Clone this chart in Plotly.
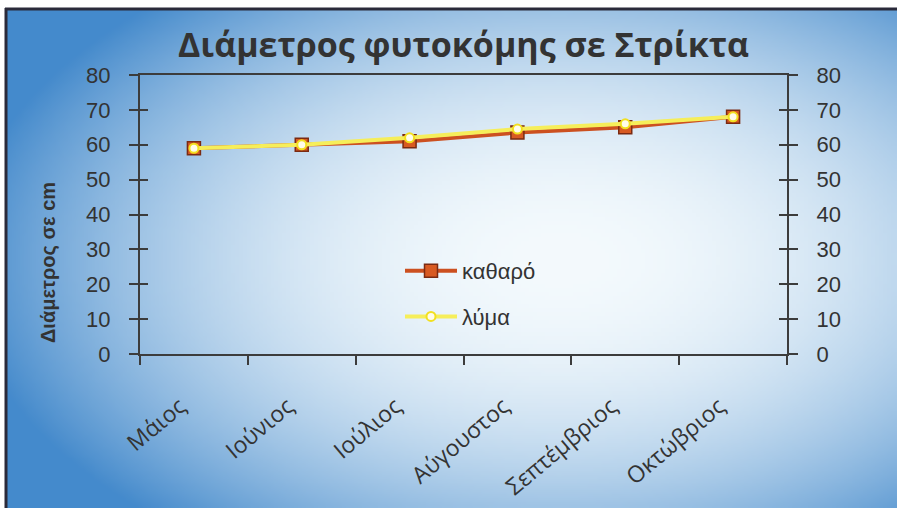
import base64
import struct
import zlib

import numpy as np
import plotly.graph_objects as go

# Monthly crown diameter (cm)
months = ["Μάιος", "Ιούνιος", "Ιούλιος", "Αύγουστος", "Σεπτέμβριος", "Οκτώβριος"]
katharo = [59, 60, 61, 63.5, 65, 68]
lyma = [59, 60, 62, 64.5, 66, 68]
y_ticks = [0, 10, 20, 30, 40, 50, 60, 70, 80]

W, H = 897, 508
L, R, T, B = 140, 110, 75, 154
PW, PH = W - L - R, H - T - B


def gradient_png(w, h):
    """Radial white-to-blue fill, encoded as a PNG data URI."""
    xs = (np.arange(w) + 0.5) / w * (W - 6) + 6
    ys = (np.arange(h) + 0.5) / h * (H - 9) + 9
    X, Y = np.meshgrid(xs, ys)
    d = np.sqrt(((X - 560) / 600) ** 2 + ((Y - 260) / 350) ** 2)
    t = np.clip(d, 0, 1) ** 2.1
    white = np.array([244, 250, 253], float)
    blue = np.array([68, 138, 204], float)
    img = (white[None, None, :] * (1 - t[..., None]) + blue[None, None, :] * t[..., None])
    img = img.clip(0, 255).astype(np.uint8)
    raw = b"".join(b"\x00" + img[r].tobytes() for r in range(h))

    def chunk(tag, data):
        return (struct.pack(">I", len(data)) + tag + data
                + struct.pack(">I", zlib.crc32(tag + data) & 0xFFFFFFFF))

    png = (b"\x89PNG\r\n\x1a\n"
           + chunk(b"IHDR", struct.pack(">IIBBBBB", w, h, 8, 2, 0, 0, 0))
           + chunk(b"IDAT", zlib.compress(raw, 9))
           + chunk(b"IEND", b""))
    return "data:image/png;base64," + base64.b64encode(png).decode()


txt = "#333333"
axis_col = "#3c3c3c"

fig = go.Figure()
fig.add_trace(go.Scatter(
    x=months, y=katharo, name="καθαρό", mode="lines+markers",
    line=dict(color="#cc5020", width=4),
    marker=dict(symbol="square", size=13, color="#d85a22",
                line=dict(color="#7a2a12", width=1.5)),
    legendgroup="a",
))
fig.add_trace(go.Scatter(
    x=months, y=lyma, name="λύμα", mode="lines+markers",
    line=dict(color="#f6ee5a", width=4),
    marker=dict(symbol="circle", size=9, color="#fffce8",
                line=dict(color="#f2e020", width=2)),
    legendgroup="b",
))
# empty traces binding the tick-only overlay axes
fig.add_trace(go.Scatter(x=[], y=[], yaxis="y3", showlegend=False))
fig.add_trace(go.Scatter(x=[], y=[], yaxis="y4", showlegend=False))
fig.add_trace(go.Scatter(x=[], y=[], yaxis="y2", showlegend=False))

yfont = dict(family="Liberation Sans, Arial", size=22, color=txt)
ycommon = dict(range=[0, 80], tickvals=y_ticks, showgrid=False, zeroline=False,
               fixedrange=True, automargin=False)

fig.update_layout(
    width=W, height=H,
    margin=dict(l=L, r=R, t=T, b=B, autoexpand=False),
    paper_bgcolor="white",
    plot_bgcolor="rgba(0,0,0,0)",
    title=dict(text="<b>Διάμετρος φυτοκόμης σε Στρίκτα</b>",
               x=0.5, xref="paper", xanchor="center",
               y=1 - 45 / H, yref="container", yanchor="middle",
               font=dict(family="Open Sans", size=34, color=txt),
               automargin=False),
    xaxis=dict(
        type="category", range=[-0.5, len(months) - 0.5], automargin=False,
        tickson="boundaries", ticks="outside", ticklen=9, tickwidth=1.5,
        tickcolor=axis_col, showline=True, linecolor=axis_col, linewidth=2,
        mirror=True, showgrid=False, tickangle=-40, ticklabelstandoff=28,
        ticklabelshift=-14,
        tickfont=dict(family="Open Sans", size=23, color=txt),
    ),
    yaxis=dict(**ycommon, ticks="outside", ticklen=9, tickwidth=1.5,
               tickcolor=axis_col, showline=True, linecolor=axis_col,
               linewidth=2, tickfont=yfont, ticklabelstandoff=14),
    yaxis2=dict(**ycommon, overlaying="y", side="right", anchor="x",
                ticks="outside", ticklen=9, tickwidth=1.5, tickcolor=axis_col,
                showline=True, linecolor=axis_col, linewidth=2,
                tickfont=yfont, ticklabelstandoff=14),
    yaxis3=dict(**ycommon, overlaying="y", side="left", anchor="x",
                ticks="inside", ticklen=8, tickwidth=1.5, tickcolor=axis_col,
                showline=False, showticklabels=False),
    yaxis4=dict(**ycommon, overlaying="y", side="right", anchor="x",
                ticks="inside", ticklen=8, tickwidth=1.5, tickcolor=axis_col,
                showline=False, showticklabels=False),
    legend=dict(
        x=(400 - L) / PW, xanchor="left", y=(H - B - 250) / PH, yanchor="top",
        bgcolor="rgba(0,0,0,0)", traceorder="grouped", tracegroupgap=14,
        font=dict(family="Liberation Sans, Arial", size=22, color=txt),
        itemwidth=52,
    ),
    showlegend=True,
    annotations=[dict(
        text="<b>Διάμετρος σε cm</b>", textangle=-90,
        xref="paper", yref="paper",
        x=(48 - L) / PW, y=(H - B - 263) / PH,
        xanchor="center", yanchor="middle", showarrow=False,
        font=dict(family="Liberation Sans, Arial", size=20, color=txt),
    )],
    images=[dict(
        source=gradient_png(224, 126), xref="paper", yref="paper",
        x=(6 - L) / PW, y=1 + (T - 9) / PH,
        sizex=(W - 6) / PW, sizey=(H - 9) / PH,
        xanchor="left", yanchor="top", sizing="stretch", layer="below",
    )],
    shapes=[
        dict(type="line", xref="paper", yref="paper",
             x0=(6 - L) / PW, x1=(6 - L) / PW, y0=-(B) / PH, y1=1 + (T - 8) / PH,
             line=dict(color="#2a2a3a", width=3)),
        dict(type="line", xref="paper", yref="paper",
             x0=(5 - L) / PW, x1=1 + R / PW, y0=1 + (T - 9) / PH, y1=1 + (T - 9) / PH,
             line=dict(color="#2a2a3a", width=3)),
    ],
)

fig.write_html("out.html")
